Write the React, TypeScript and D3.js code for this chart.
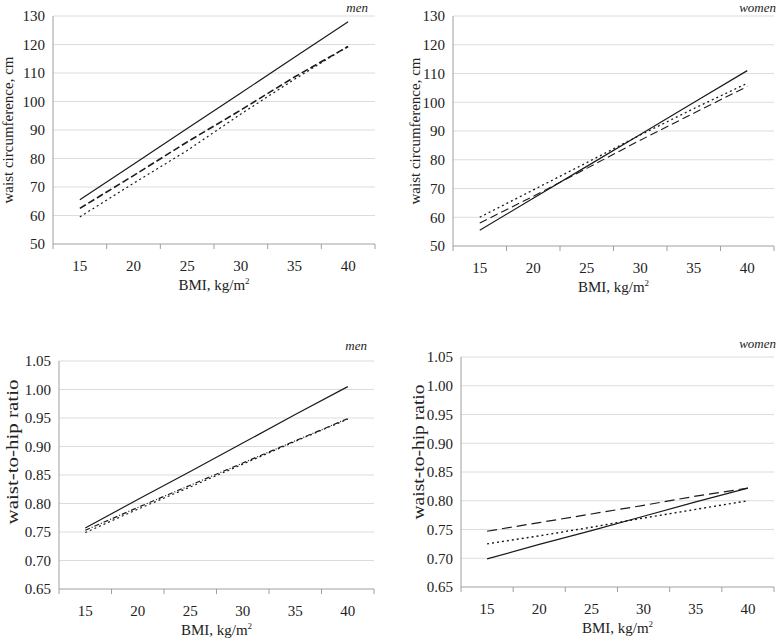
import React from "react";
import * as d3 from "d3";

const bmi = ["15", "20", "25", "30", "35", "40"];

const menWaistSolid = [65.5, 78, 90.5, 103, 115.5, 128];
const menWaistDashed = [62.5, 74, 85.8, 97, 108.6, 119.3];
const menWaistDotted = [59.5, 71.3, 82.8, 95.6, 107.8, 119.4];

const womenWaistSolid = [55.5, 66.6, 77.7, 88.8, 99.9, 111];
const womenWaistDashed = [58, 67.3, 77, 86.8, 96.2, 105.5];
const womenWaistDotted = [60, 69.5, 79, 88.6, 97.8, 106.6];

const menWhrSolid = [0.757, 0.807, 0.856, 0.906, 0.956, 1.005];
const menWhrDashed = [0.753, 0.793, 0.832, 0.871, 0.91, 0.949];
const menWhrDotted = [0.749, 0.79, 0.829, 0.869, 0.909, 0.948];

const womenWhrSolid = [0.699, 0.724, 0.748, 0.773, 0.798, 0.822];
const womenWhrDashed = [0.747, 0.762, 0.777, 0.792, 0.808, 0.822];
const womenWhrDotted = [0.725, 0.739, 0.754, 0.77, 0.785, 0.8];

const waistTicks = [50, 60, 70, 80, 90, 100, 110, 120, 130];
const whrTicks = [0.65, 0.7, 0.75, 0.8, 0.85, 0.9, 0.95, 1.0, 1.05];

type Series = { values: number[]; dash: string | null; width: number };

type PanelProps = {
  left: number;
  right: number;
  top: number;
  bottom: number;
  domain: [number, number];
  ticks: number[];
  fmt: (v: number) => string;
  yTitle: string;
  yTitleX: number;
  yTitleY?: number;
  yTitleSize?: number;
  yTitleLen?: number;
  sex: string;
  sexY: number;
  sexX: number;
  series: Series[];
};

const font = '"Liberation Serif", "Times New Roman", serif';

function Panel(p: PanelProps) {
  const x = d3.scaleBand().domain(bmi).range([p.left, p.right]).padding(0);
  const y = d3.scaleLinear().domain(p.domain).range([p.bottom, p.top]);
  const line = d3
    .line<number>()
    .x((_, i) => (x(bmi[i]) ?? 0) + x.bandwidth() / 2)
    .y((v) => y(v));
  const bounds = [...bmi.map((c) => x(c) ?? 0), p.right];
  const midY = p.yTitleY ?? (p.top + p.bottom) / 2;

  return (
    <g style={{ fontFamily: font }} fill="#222">
      {p.ticks.map((t) => (
        <g key={t}>
          {t !== p.domain[0] && (
            <line x1={p.left} x2={p.right} y1={y(t)} y2={y(t)} stroke="#dcdcdc" strokeWidth={1} />
          )}
          <text x={p.left - 8} y={y(t)} dy="0.35em" textAnchor="end" fontSize={15}>
            {p.fmt(t)}
          </text>
        </g>
      ))}
      <line x1={p.left} x2={p.left} y1={p.top} y2={p.bottom} stroke="#a0a0a0" />
      <line x1={p.left} x2={p.right} y1={p.bottom} y2={p.bottom} stroke="#a0a0a0" />
      {bounds.map((b, i) => (
        <line key={i} x1={b} x2={b} y1={p.bottom} y2={p.bottom + 5} stroke="#a0a0a0" />
      ))}
      {bmi.map((c) => (
        <text
          key={c}
          x={(x(c) ?? 0) + x.bandwidth() / 2}
          y={p.bottom + 27}
          textAnchor="middle"
          fontSize={15}
        >
          {c}
        </text>
      ))}
      <text x={(p.left + p.right) / 2} y={p.bottom + 46} textAnchor="middle" fontSize={15}>
        BMI, kg/m<tspan fontSize={9} dy={-6}>2</tspan>
      </text>
      <text
        transform={`translate(${p.yTitleX},${midY}) rotate(-90)`}
        textAnchor="middle"
        dy="0.35em"
        fontSize={p.yTitleSize ?? 15}
        textLength={p.yTitleLen}
        lengthAdjust={p.yTitleLen ? "spacingAndGlyphs" : undefined}
      >
        {p.yTitle}
      </text>
      <text x={p.sexX} y={p.sexY} textAnchor="end" fontSize={13} fontStyle="italic">
        {p.sex}
      </text>
      {p.series.map((s, i) => (
        <path
          key={i}
          d={line(s.values) ?? ""}
          fill="none"
          stroke="#1a1a1a"
          strokeWidth={s.width}
          strokeDasharray={s.dash ?? undefined}
        />
      ))}
    </g>
  );
}

export default function App() {
  const f0 = (v: number) => d3.format("d")(v);
  const f2 = (v: number) => d3.format(".2f")(v);
  return (
    <svg
      width={777}
      height={641}
      style={{ position: "absolute", left: 0, top: 0, background: "#fff" }}
    >
      <rect width={777} height={641} fill="#fff" />
      <Panel
        left={53}
        right={375}
        top={16}
        bottom={244}
        domain={[50, 130]}
        ticks={waistTicks}
        fmt={f0}
        yTitle="waist circumference, cm"
        yTitleX={8}
        sex="men"
        sexX={368}
        sexY={12}
        series={[
          { values: menWaistSolid, dash: null, width: 1.2 },
          { values: menWaistDashed, dash: "7,3", width: 1.6 },
          { values: menWaistDotted, dash: "2,3", width: 1.2 },
        ]}
      />
      <Panel
        left={453}
        right={774}
        top={16}
        bottom={246}
        domain={[50, 130]}
        ticks={waistTicks}
        fmt={f0}
        yTitle="waist circumference, cm"
        yTitleX={415}
        sex="women"
        sexX={776}
        sexY={12}
        series={[
          { values: womenWaistSolid, dash: null, width: 1.2 },
          { values: womenWaistDashed, dash: "8,4", width: 1.1 },
          { values: womenWaistDotted, dash: "2,3", width: 1.3 },
        ]}
      />
      <Panel
        left={59}
        right={374}
        top={361}
        bottom={589}
        domain={[0.65, 1.05]}
        ticks={whrTicks}
        fmt={f2}
        yTitle="waist-to-hip ratio"
        yTitleX={12}
        yTitleY={452}
        yTitleSize={17.5}
        yTitleLen={145}
        sex="men"
        sexX={367}
        sexY={350}
        series={[
          { values: menWhrSolid, dash: null, width: 1.2 },
          { values: menWhrDashed, dash: "5,2,1,2", width: 1.2 },
          { values: menWhrDotted, dash: "2,3", width: 1.2 },
        ]}
      />
      <Panel
        left={461}
        right={774}
        top={357}
        bottom={587}
        domain={[0.65, 1.05]}
        ticks={whrTicks}
        fmt={f2}
        yTitle="waist-to-hip ratio"
        yTitleX={418}
        yTitleY={452}
        yTitleSize={17}
        yTitleLen={135}
        sex="women"
        sexX={776}
        sexY={348}
        series={[
          { values: womenWhrSolid, dash: null, width: 1.2 },
          { values: womenWhrDashed, dash: "10,5", width: 1.2 },
          { values: womenWhrDotted, dash: "2,3", width: 1.4 },
        ]}
      />
    </svg>
  );
}
